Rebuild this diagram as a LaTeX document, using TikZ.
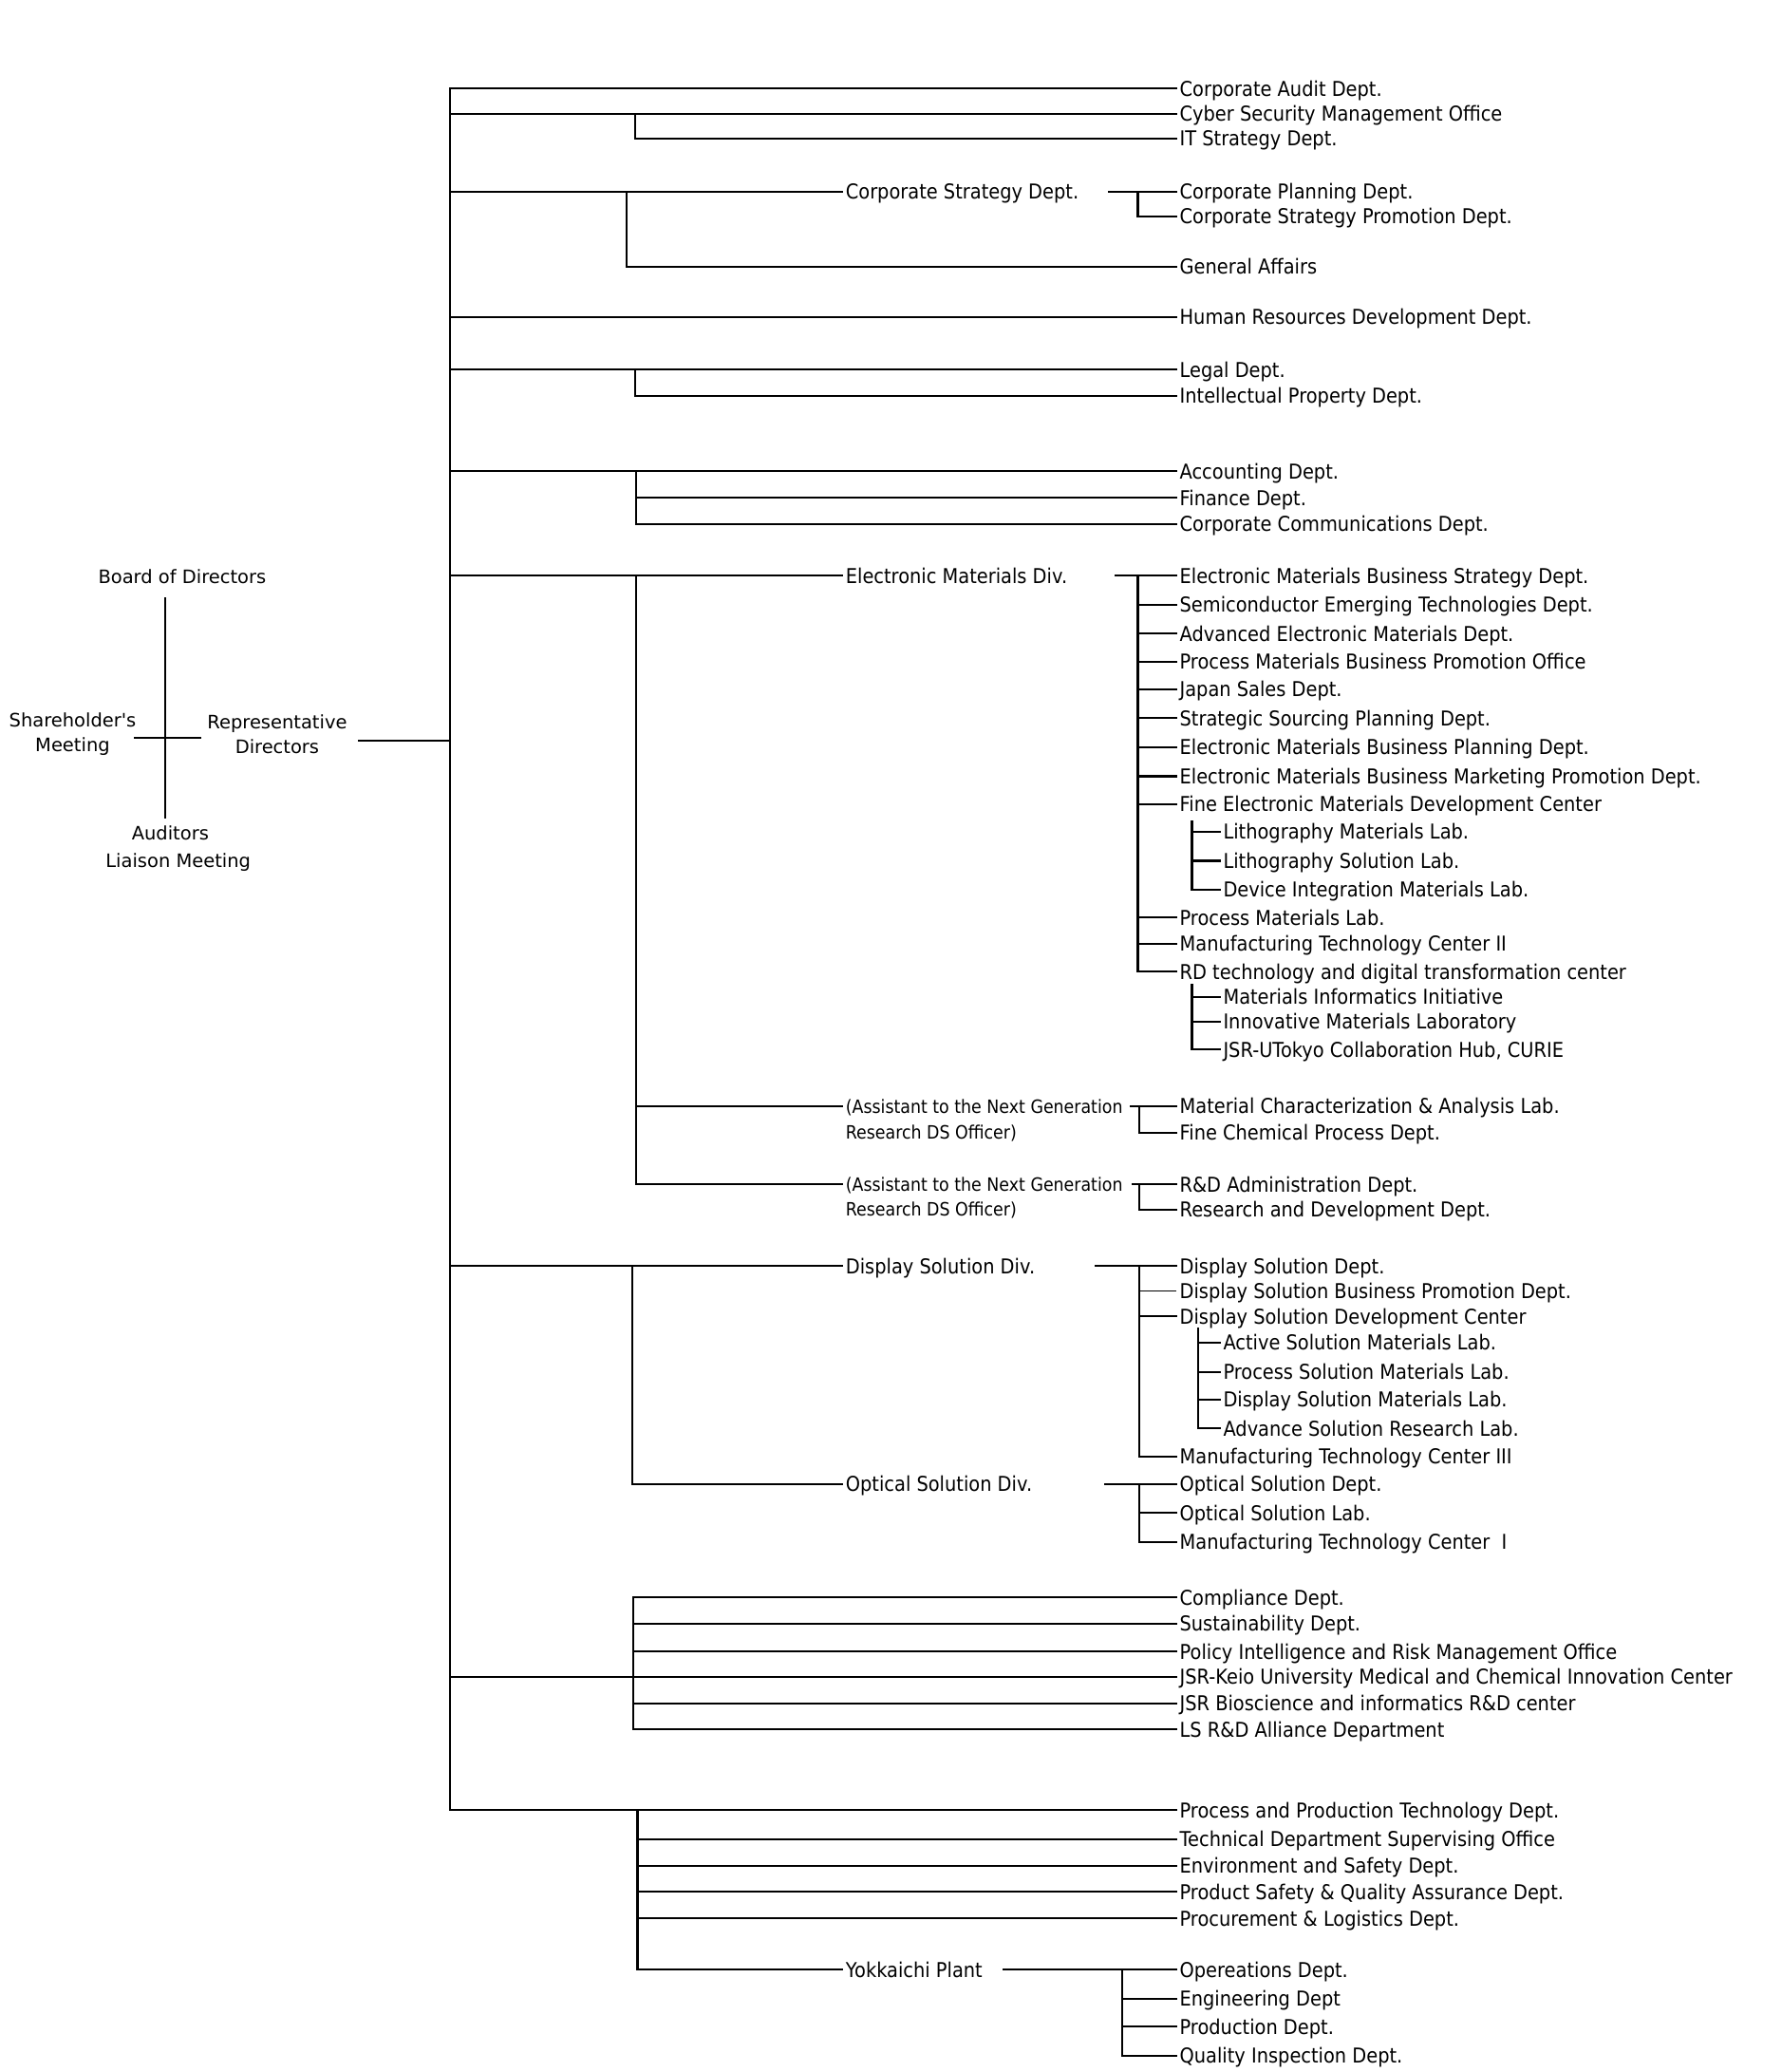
\documentclass[tikz,border=0pt]{standalone}
\usepackage{fontspec}
\newfontfamily\narfont[FakeStretch=0.9]{DejaVu Sans}
\newfontfamily\widefont{DejaVu Sans}
\begin{document}
\begin{tikzpicture}[x=1pt,y=-1pt,line width=1.5pt,line cap=rect,
  dept/.style={anchor=west,inner xsep=2pt,inner ysep=0pt,font=\narfont\fontsize{15.5}{18}\selectfont,text height=11.3pt,text depth=0pt},
  smalltext/.style={anchor=west,inner xsep=2pt,inner ysep=0pt,font=\narfont\fontsize{13.9}{16}\selectfont,text height=10pt,text depth=0pt},
  lt/.style={inner sep=0pt,font=\widefont\fontsize{14}{19}\selectfont,align=center},
  thinline/.style={line width=0.8pt}]
\useasboundingbox (0,0) rectangle (1350,1569.4);

% ---------- left block ----------
\node[lt] (bod) at (138,437) {Board of Directors};
\node[lt] (shm) at (55,556) {Shareholder's\\Meeting};
\node[lt] (rep) at (210,556) {Representative\\Directors};
\node[lt] (aud1) at (129,631) {Auditors};
\node[lt] (aud2) at (135,653) {Liaison Meeting};
\coordinate (vTop) at (125,453);
\coordinate (vBot) at (125,619);
\coordinate (hL) at (102,559);
\coordinate (hR) at (152,559);
\draw (vTop) -- (vBot);
\draw (hL) -- (hR);

% ---------- trunk ----------
\coordinate (trunkTop) at (341,67);
\coordinate (trunkBot) at (341,1371);
\draw (trunkTop) -- (trunkBot);
\coordinate (repR) at (272,561);
\draw (repR) -- (trunkTop |- repR);

% ---------- audit / IT ----------
\node[dept] (ca) at (891,67) {Corporate Audit Dept.};
\node[dept] (csmo) at (891,86) {Cyber Security Management Office};
\node[dept] (its) at (891,105) {IT Strategy Dept.};
\draw (trunkTop) -- (ca.west);
\draw (trunkTop |- csmo.west) -- (csmo.west);
\coordinate (a1) at (481,0);
\draw (a1 |- csmo.west) -- (a1 |- its.west) -- (its.west);

% ---------- corporate strategy ----------
\node[dept] (cst) at (638,145) {Corporate Strategy Dept.};
\node[dept] (ga) at (891,202) {General Affairs};
\draw (trunkTop |- cst.west) -- (cst.west);
\coordinate (b1) at (475,0);
\draw (b1 |- cst.west) -- (b1 |- ga.west) -- (ga.west);
\node[dept] (cpd) at (891,145) {Corporate Planning Dept.};
\node[dept] (cspd) at (891,164) {Corporate Strategy Promotion Dept.};
\coordinate (b2) at (840,145);
\draw (b2) -- (cpd.west);
\coordinate (b3) at (862,0);
\draw (b3 |- cpd.west) -- (b3 |- cspd.west) -- (cspd.west);

% ---------- HR / legal ----------
\node[dept] (hr) at (891,240) {Human Resources Development Dept.};
\draw (trunkTop |- hr.west) -- (hr.west);
\node[dept] (lg) at (891,280) {Legal Dept.};
\node[dept] (ip) at (891,300) {Intellectual Property Dept.};
\draw (trunkTop |- lg.west) -- (lg.west);
\draw (a1 |- lg.west) -- (a1 |- ip.west) -- (ip.west);

% ---------- accounting ----------
\coordinate (c1) at (482,0);
\node[dept] (acc) at (891,357) {Accounting Dept.};
\node[dept] (fin) at (891,377) {Finance Dept.};
\node[dept] (ccd) at (891,397) {Corporate Communications Dept.};
\draw (trunkTop |- acc.west) -- (acc.west);
\draw (c1 |- acc.west) -- (c1 |- ccd.west) -- (ccd.west);
\draw (c1 |- fin.west) -- (fin.west);

% ---------- electronic materials ----------
\node[dept] (emd) at (638,436) {Electronic Materials Div.};
\draw (trunkTop |- emd.west) -- (emd.west);
\node[smalltext] (as1) at (638,838) {(Assistant to the Next Generation};
\node[smalltext] (as1b) at (638,858) {Research DS Officer)};
\node[smalltext] (as2) at (638,897) {(Assistant to the Next Generation};
\node[smalltext] (as2b) at (638,916) {Research DS Officer)};
\draw (c1 |- emd.west) -- (c1 |- as2.west) -- (as2.west);
\draw (c1 |- as1.west) -- (as1.west);

\node[dept] (e1) at (891,436) {Electronic Materials Business Strategy Dept.};
\node[dept] (e2) at (891,458) {Semiconductor Emerging Technologies Dept.};
\node[dept] (e3) at (891,480) {Advanced Electronic Materials Dept.};
\node[dept] (e4) at (891,501) {Process Materials Business Promotion Office};
\node[dept] (e5) at (891,522) {Japan Sales Dept.};
\node[dept] (e6) at (891,544) {Strategic Sourcing Planning Dept.};
\node[dept] (e7) at (891,566) {Electronic Materials Business Planning Dept.};
\node[dept] (e8) at (891,588) {Electronic Materials Business Marketing Promotion Dept.};
\node[dept] (e9) at (891,609) {Fine Electronic Materials Development Center};
\node[dept] (e9a) at (924,630) {Lithography Materials Lab.};
\node[dept] (e9b) at (924,652) {Lithography Solution Lab.};
\node[dept] (e9c) at (924,674) {Device Integration Materials Lab.};
\node[dept] (e10) at (891,695) {Process Materials Lab.};
\node[dept] (e11) at (891,715) {Manufacturing Technology Center II};
\node[dept] (e12) at (891,736) {RD technology and digital transformation center};
\node[dept] (e12a) at (924,755) {Materials Informatics Initiative};
\node[dept] (e12b) at (924,774) {Innovative Materials Laboratory};
\node[dept] (e12c) at (924,795) {JSR-UTokyo Collaboration Hub, CURIE};

\coordinate (d1) at (845,436);
\draw (d1) -- (e1.west);
\draw (b3 |- e1.west) -- (b3 |- e12.west) -- (e12.west);
\foreach \n in {e2,e3,e4,e5,e6,e7,e8,e9,e10,e11}
  \draw (b3 |- \n.west) -- (\n.west);
\coordinate (d2) at (903,622);
\draw (d2) -- (d2 |- e9c.west) -- (e9c.west);
\draw (d2 |- e9a.west) -- (e9a.west);
\draw (d2 |- e9b.west) -- (e9b.west);
\coordinate (d3) at (903,746);
\draw (d3) -- (d3 |- e12c.west) -- (e12c.west);
\draw (d3 |- e12a.west) -- (e12a.west);
\draw (d3 |- e12b.west) -- (e12b.west);

% assistants' units
\node[dept] (m1) at (891,838) {Material Characterization \& Analysis Lab.};
\node[dept] (m2) at (891,858) {Fine Chemical Process Dept.};
\node[dept] (r1) at (891,897) {R\&D Administration Dept.};
\node[dept] (r2) at (891,916) {Research and Development Dept.};
\coordinate (f1) at (857,838);
\coordinate (f2) at (858,897);
\coordinate (f3) at (863,0);
\draw (f1) -- (m1.west);
\draw (f3 |- m1.west) -- (f3 |- m2.west) -- (m2.west);
\draw (f2) -- (r1.west);
\draw (f3 |- r1.west) -- (f3 |- r2.west) -- (r2.west);

% ---------- display / optical ----------
\coordinate (g1) at (479,0);
\node[dept] (dsd) at (638,959) {Display Solution Div.};
\node[dept] (osd) at (638,1124) {Optical Solution Div.};
\draw (trunkTop |- dsd.west) -- (dsd.west);
\draw (g1 |- dsd.west) -- (g1 |- osd.west) -- (osd.west);

\node[dept] (s1) at (891,959) {Display Solution Dept.};
\node[dept] (s2) at (891,978) {Display Solution Business Promotion Dept.};
\node[dept] (s3) at (891,997) {Display Solution Development Center};
\node[dept] (s3a) at (924,1017) {Active Solution Materials Lab.};
\node[dept] (s3b) at (924,1039) {Process Solution Materials Lab.};
\node[dept] (s3c) at (924,1060) {Display Solution Materials Lab.};
\node[dept] (s3d) at (924,1082) {Advance Solution Research Lab.};
\node[dept] (s4) at (891,1103) {Manufacturing Technology Center III};
\coordinate (h1) at (830,959);
\draw (h1) -- (s1.west);
\draw (f3 |- s1.west) -- (f3 |- s4.west) -- (s4.west);
\draw[thinline] (f3 |- s2.west) -- (s2.west);
\draw (f3 |- s3.west) -- (s3.west);
\coordinate (h2) at (908,1006);
\draw (h2) -- (h2 |- s3d.west) -- (s3d.west);
\draw (h2 |- s3a.west) -- (s3a.west);
\draw (h2 |- s3b.west) -- (s3b.west);
\draw (h2 |- s3c.west) -- (s3c.west);

\node[dept] (o1) at (891,1124) {Optical Solution Dept.};
\node[dept] (o2) at (891,1146) {Optical Solution Lab.};
\node[dept] (o3) at (891,1168) {Manufacturing Technology Center\ \ I};
\coordinate (h3) at (837,1124);
\draw (h3) -- (o1.west);
\draw (f3 |- o1.west) -- (f3 |- o3.west) -- (o3.west);
\draw (f3 |- o2.west) -- (o2.west);

% ---------- compliance group ----------
\coordinate (k1) at (480,0);
\node[dept] (q1) at (891,1210) {Compliance Dept.};
\node[dept] (q2) at (891,1230) {Sustainability Dept.};
\node[dept] (q3) at (891,1251) {Policy Intelligence and Risk Management Office};
\node[dept] (q4) at (891,1270) {JSR-Keio University Medical and Chemical Innovation Center};
\node[dept] (q5) at (891,1290) {JSR Bioscience and informatics R\&D center};
\node[dept] (q6) at (891,1310) {LS R\&D Alliance Department};
\draw (trunkTop |- q4.west) -- (q4.west);
\draw (k1 |- q1.west) -- (k1 |- q6.west) -- (q6.west);
\foreach \n in {q1,q2,q3,q5}
  \draw (k1 |- \n.west) -- (\n.west);

% ---------- production group ----------
\coordinate (p1) at (483,0);
\node[dept] (pp1) at (891,1371) {Process and Production Technology Dept.};
\node[dept] (pp2) at (891,1393) {Technical Department Supervising Office};
\node[dept] (pp3) at (891,1413) {Environment and Safety Dept.};
\node[dept] (pp4) at (891,1433) {Product Safety \& Quality Assurance Dept.};
\node[dept] (pp5) at (891,1453) {Procurement \& Logistics Dept.};
\node[dept] (yp) at (638,1492) {Yokkaichi Plant};
\draw (trunkBot) -- (pp1.west);
\draw (p1 |- pp1.west) -- (p1 |- yp.west) -- (yp.west);
\foreach \n in {pp2,pp3,pp4,pp5}
  \draw (p1 |- \n.west) -- (\n.west);

\node[dept] (y1) at (891,1492) {Opereations Dept.};
\node[dept] (y2) at (891,1514) {Engineering Dept};
\node[dept] (y3) at (891,1535) {Production Dept.};
\node[dept] (y4) at (891,1557) {Quality Inspection Dept.};
\coordinate (t1) at (760,1492);
\coordinate (t2) at (850,0);
\draw (t1) -- (y1.west);
\draw (t2 |- y1.west) -- (t2 |- y4.west) -- (y4.west);
\draw (t2 |- y2.west) -- (y2.west);
\draw (t2 |- y3.west) -- (y3.west);
\end{tikzpicture}
\end{document}
